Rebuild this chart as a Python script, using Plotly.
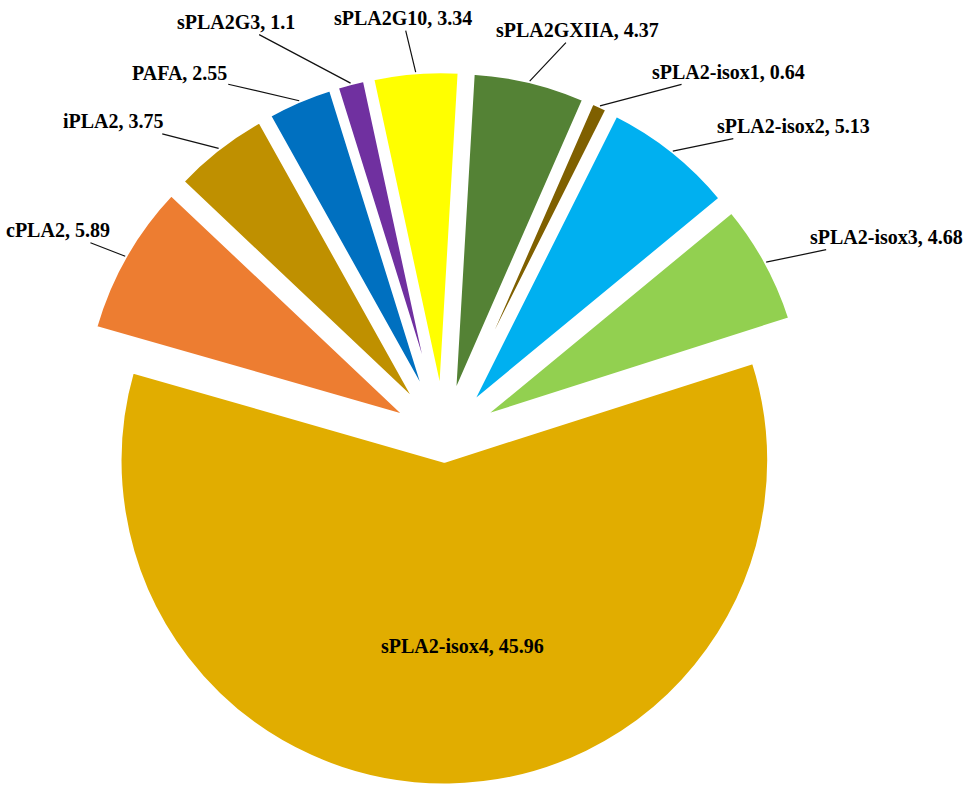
import math
import plotly.graph_objects as go

labels = ["cPLA2", "iPLA2", "PAFA", "sPLA2G3", "sPLA2G10", "sPLA2GXIIA",
          "sPLA2-isox1", "sPLA2-isox2", "sPLA2-isox3", "sPLA2-isox4"]
values = [5.89, 3.75, 2.55, 1.1, 3.34, 4.37, 0.64, 5.13, 4.68, 45.96]
value_text = ["5.89", "3.75", "2.55", "1.1", "3.34", "4.37", "0.64", "5.13", "4.68", "45.96"]

# styles
colors = ["#ED7D31", "#BF9000", "#0070C0", "#7030A0", "#FFFF00", "#548235",
          "#7F6000", "#00B0F0", "#92D050", "#E1AD00"]
pulls = [0.13, 0.13, 0.13, 0.13, 0.13, 0.13, 0.13, 0.13, 0.13, 0.07]
# label offsets (px) from the outer arc of each slice; last one is inside label offset from slice tip
label_dx = [-67, -105, -120, -115, -13, 48, 129, 121, 120, 18]
label_dy = [-26, -27, -28, -61, -54, -51, -34, -25, -25, 198]

W, H = 975, 805
ROT = -74
dom_x = [0.0790, 0.8318]
dom_y = [0.0, 0.9118]

FONT = dict(family="Liberation Serif", size=20, color="black", weight="bold")

fig = go.Figure(go.Pie(
    labels=labels,
    values=values,
    sort=False,
    direction="clockwise",
    rotation=ROT,
    pull=pulls,
    marker=dict(colors=colors, line=dict(color="white", width=4)),
    textinfo="none",
    hoverinfo="label+value",
    showlegend=False,
    domain=dict(x=dom_x, y=dom_y),
))

# pie geometry (same rules plotly uses to lay out the pie)
box_w = W * (dom_x[1] - dom_x[0])
box_h = H * (dom_y[1] - dom_y[0])
r = min(box_w, box_h) / 2 / (1 + max(pulls))
cx = W * (dom_x[0] + dom_x[1]) / 2
cy = H * (1 - dom_y[0]) - box_h / 2
total = sum(values)

annotations = []
cum = 0.0
for i, (lab, v) in enumerate(zip(labels, values)):
    mid = math.radians(ROT + (cum + v / 2) / total * 360)
    cum += v
    sx, sy = math.sin(mid), -math.cos(mid)
    pcx = cx + pulls[i] * r * sx
    pcy = cy + pulls[i] * r * sy
    text = f"{lab}, {value_text[i]}"
    if i < len(labels) - 1:
        px, py = pcx + r * sx, pcy + r * sy
        annotations.append(dict(
            x=px / W, y=1 - py / H, xref="paper", yref="paper",
            ax=label_dx[i], ay=label_dy[i],
            text=text, showarrow=True, arrowhead=0, arrowwidth=1.2,
            arrowcolor="#111111", standoff=0, font=FONT,
        ))
    else:
        tx, ty = pcx + label_dx[i], pcy + label_dy[i]
        annotations.append(dict(
            x=tx / W, y=1 - ty / H, xref="paper", yref="paper",
            text=text, showarrow=False, font=FONT,
        ))

fig.update_layout(
    width=W, height=H,
    margin=dict(l=0, r=0, t=0, b=0),
    paper_bgcolor="white",
    plot_bgcolor="white",
    annotations=annotations,
)

fig.write_html("out.html")
